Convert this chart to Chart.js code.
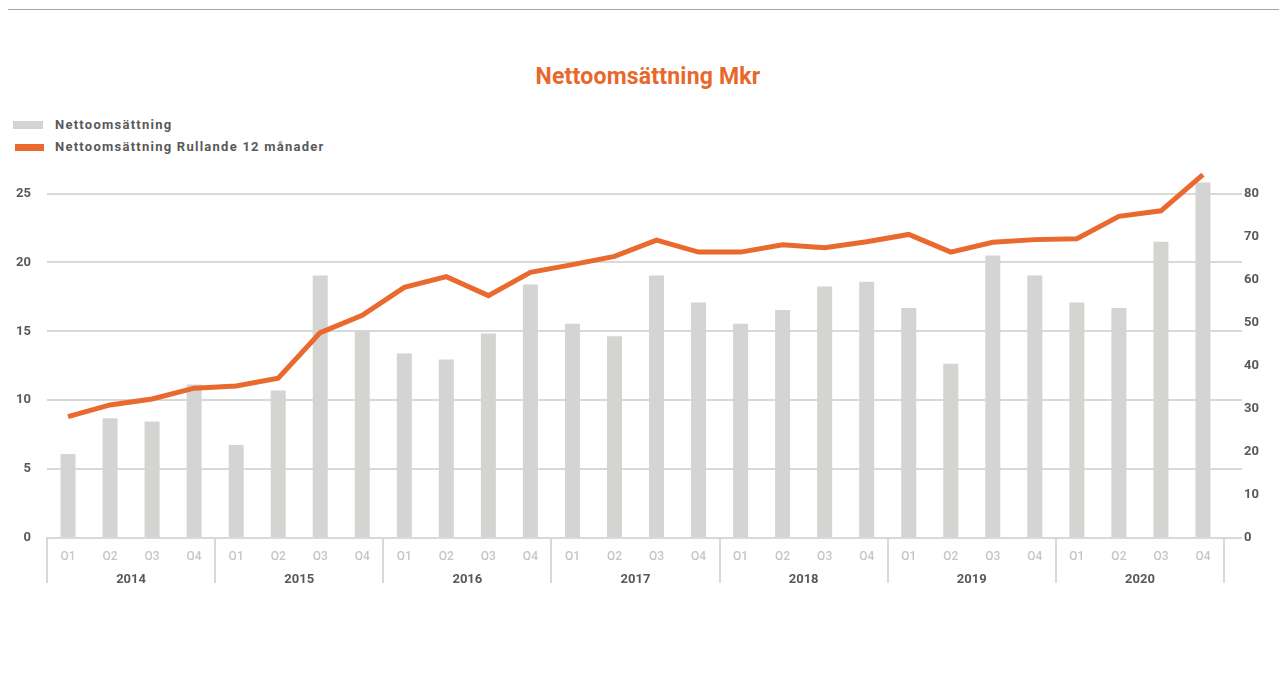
<!DOCTYPE html>
<html>
<head>
<meta charset="utf-8">
<script src="https://cdn.jsdelivr.net/npm/chart.js@4"></script>
<style>
  html, body { margin: 0; padding: 0; background: #fff; }
  #wrap { position: relative; width: 1279px; height: 675px; overflow: hidden; font-family: Roboto, "DejaVu Sans", sans-serif; }
  #topline { position: absolute; left: 8px; right: 0; top: 9px; height: 1px; background: #a6a6a6; }
  #title { position: absolute; left: 0; width: 1296px; top: 63px; text-align: center; font-size: 23px; font-weight: 700; color: #E8682C; letter-spacing: 0.2px; }
  #legend { position: absolute; left: 0; top: 0; }
  .li { position: absolute; left: 55px; font-size: 13px; font-weight: 700; color: #595959; letter-spacing: 1.25px; white-space: nowrap; line-height: 14px; }
  .sw { position: absolute; }
  canvas { position: absolute; left: 0; top: 0; }
</style>
</head>
<body>
<div id="wrap">
  <div id="topline"></div>
  <div id="title">Nettoomsättning Mkr</div>
  <div id="legend"></div>
  <canvas id="c" width="1279" height="675"></canvas>
</div>
<script>
const quarters = ['Q1','Q2','Q3','Q4','Q1','Q2','Q3','Q4','Q1','Q2','Q3','Q4','Q1','Q2','Q3','Q4','Q1','Q2','Q3','Q4','Q1','Q2','Q3','Q4','Q1','Q2','Q3','Q4'];
const years = ['2014','2015','2016','2017','2018','2019','2020'];
const netSales = [6.1, 8.7, 8.45, 11.15, 6.75, 10.7, 19.05, 15.05, 13.4, 12.95, 14.85, 18.4, 15.55, 14.65, 19.05, 17.1, 15.55, 16.55, 18.25, 18.6, 16.7, 12.65, 20.5, 19.05, 17.1, 16.7, 21.5, 25.8];
const rolling12 = [28.2, 30.9, 32.3, 34.8, 35.3, 37.1, 47.7, 51.7, 58.2, 60.7, 56.3, 61.7, 63.5, 65.4, 69.2, 66.4, 66.4, 68.1, 67.4, 68.8, 70.5, 66.4, 68.7, 69.3, 69.5, 74.7, 76.0, 84.4];
const leftTicks = [0, 5, 10, 15, 20, 25];
const rightTicks = [0, 10, 20, 30, 40, 50, 60, 70, 80];
const seriesNames = ['Nettoomsättning', 'Nettoomsättning Rullande 12 månader'];

const GRID = '#d9d9d9';
const TXT = '#595959';
const BAR = '#d4d4d2';
const ORANGE = '#E9692E';
const FONT = 'Roboto, "DejaVu Sans", sans-serif';

const setTicks = arr => scale => { scale.ticks = arr.map(v => ({ value: v })); };

// draws the vertical separators between year groups below the x axis
const yearSeparators = {
  id: 'yearSeparators',
  afterDraw(chart) {
    const xs = chart.scales.x;
    const ca = chart.chartArea;
    const ctx = chart.ctx;
    const n = xs.ticks.length;
    const per = n / years.length;
    ctx.save();
    ctx.strokeStyle = GRID;
    ctx.lineWidth = 2;
    for (let k = 0; k <= years.length; k++) {
      const i = k * per;
      let px;
      if (i === 0) px = xs.getPixelForValue(0) - (xs.getPixelForValue(1) - xs.getPixelForValue(0)) / 2;
      else if (i === n) px = xs.getPixelForValue(n - 1) + (xs.getPixelForValue(n - 1) - xs.getPixelForValue(n - 2)) / 2;
      else px = (xs.getPixelForValue(i - 1) + xs.getPixelForValue(i)) / 2;
      px = Math.round(px);
      ctx.beginPath();
      ctx.moveTo(px, ca.bottom);
      ctx.lineTo(px, ca.bottom + 45);
      ctx.stroke();
    }
    ctx.restore();
  }
};

const chart = new Chart(document.getElementById('c'), {
  type: 'bar',
  data: {
    labels: quarters,
    datasets: [
      {
        type: 'line', label: seriesNames[1], data: rolling12, yAxisID: 'y2', xAxisID: 'x',
        borderColor: ORANGE, backgroundColor: ORANGE, borderWidth: 5, pointRadius: 0,
        tension: 0, order: 0
      },
      {
        type: 'bar', label: seriesNames[0], data: netSales, yAxisID: 'y', xAxisID: 'x',
        backgroundColor: BAR, barPercentage: 0.357, categoryPercentage: 1, order: 1
      }
    ]
  },
  plugins: [yearSeparators],
  options: {
    responsive: false,
    animation: false,
    devicePixelRatio: 1,
    layout: { padding: { top: 166, bottom: 89, left: 0, right: 0 } },
    plugins: { legend: { display: false }, title: { display: false }, tooltip: { enabled: false } },
    scales: {
      x: {
        position: 'bottom', offset: true,
        grid: { display: false, drawTicks: false },
        border: { display: true, color: GRID, width: 2 },
        afterFit: s => { s.height = 22; },
        ticks: { autoSkip: false, maxRotation: 0, padding: 12, color: '#c6c6c6', font: { family: FONT, size: 12, weight: '500' } }
      },
      x2: {
        type: 'category', position: 'bottom', labels: years, offset: true,
        grid: { display: false, drawTicks: false },
        border: { display: false },
        afterFit: s => { s.height = 26; },
        ticks: { autoSkip: false, maxRotation: 0, padding: 12, color: TXT, font: { family: FONT, size: 13, weight: 'bold' } }
      },
      y: {
        position: 'left', min: 0, max: 27,
        afterBuildTicks: setTicks(leftTicks),
        afterFit: s => { s.width = 47; },
        grid: { color: GRID, lineWidth: 2, drawTicks: false },
        border: { display: false },
        ticks: { padding: 16, color: TXT, font: { family: FONT, size: 13, weight: 'bold' } }
      },
      y3: {
        position: 'right', min: 0, max: 27,
        afterBuildTicks: setTicks(leftTicks),
        grid: { drawOnChartArea: false, drawTicks: true, tickLength: 18, color: GRID, lineWidth: 2 },
        border: { display: false },
        ticks: { display: false }
      },
      y2: {
        position: 'right', min: 0, max: 86.4,
        afterBuildTicks: setTicks(rightTicks),
        afterFit: s => { s.width = 37; },
        grid: { display: false, drawTicks: false },
        border: { display: false },
        ticks: { padding: 2, color: TXT, font: { family: FONT, size: 13, weight: 'bold' } }
      }
    }
  }
});

// HTML legend built from the chart's datasets
const legend = document.getElementById('legend');
const legendItems = [
  { ds: chart.data.datasets[1], swatch: { left: 13, top: 121, w: 30, h: 8 }, textTop: 118 },
  { ds: chart.data.datasets[0], swatch: { left: 15, top: 144, w: 29, h: 7 }, textTop: 140 }
];
legendItems.forEach(it => {
  const sw = document.createElement('div');
  sw.className = 'sw';
  sw.style.left = it.swatch.left + 'px';
  sw.style.top = it.swatch.top + 'px';
  sw.style.width = it.swatch.w + 'px';
  sw.style.height = it.swatch.h + 'px';
  sw.style.background = it.ds.type === 'line' ? it.ds.borderColor : it.ds.backgroundColor;
  legend.appendChild(sw);
  const t = document.createElement('div');
  t.className = 'li';
  t.style.top = it.textTop + 'px';
  t.textContent = it.ds.label;
  legend.appendChild(t);
});
</script>
</body>
</html>
